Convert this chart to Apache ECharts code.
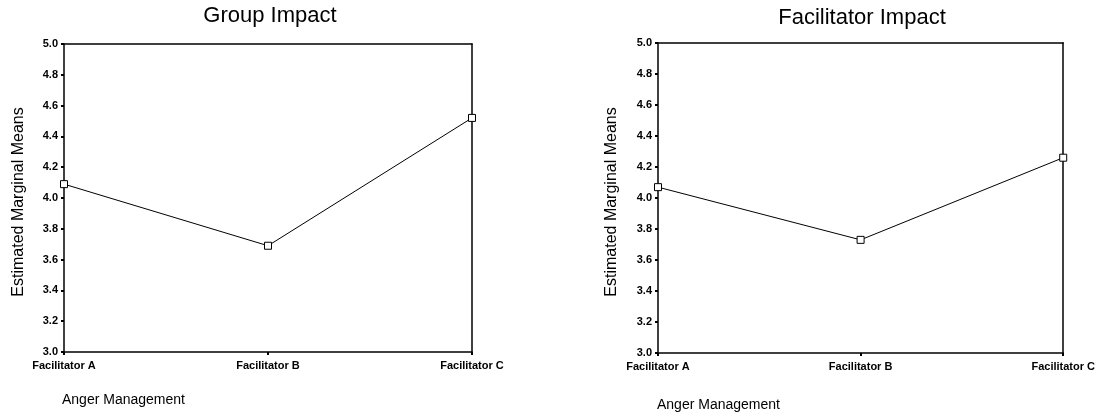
<!DOCTYPE html>
<html>
<head>
<meta charset="utf-8">
<script src="https://cdn.jsdelivr.net/npm/echarts@6/dist/echarts.min.js"></script>
<style>html,body{margin:0;padding:0;background:#fff;}#c{width:1098px;height:413px;}</style>
</head>
<body>
<div id="c"></div>
<script>
const categories = ['Facilitator A', 'Facilitator B', 'Facilitator C'];
const groupImpact = [4.09, 3.69, 4.52];
const facilitatorImpact = [4.07, 3.73, 4.26];
const titles = ['Group Impact', 'Facilitator Impact'];
const yAxisTitle = 'Estimated Marginal Means';
const xAxisTitle = 'Anger Management';
const yMin = 3.0, yMax = 5.0, yStep = 0.2;

const FONT = 'Liberation Sans, Arial, sans-serif';
const chart = echarts.init(document.getElementById('c'));
const lineStyle = { color: '#000', width: 1.5 };
const grids = [
  { left: 64, top: 44, width: 408, height: 308 },
  { left: 658, top: 43, width: 406, height: 310 }
];
const xAxes = [], yAxes = [], series = [];
[groupImpact, facilitatorImpact].forEach((vals, i) => {
  xAxes.push({
    type: 'category', gridIndex: i, data: categories, boundaryGap: false, position: 'bottom',
    axisLine: { lineStyle }, axisTick: { show: true, length: 3, inside: false, lineStyle: { color: '#000', width: 2 } },
    axisLabel: { color: '#000', fontFamily: FONT, fontSize: 11, fontWeight: 'bold', margin: 8, interval: 0 },
    splitLine: { show: false }
  });
  xAxes.push({
    type: 'category', gridIndex: i, data: categories, boundaryGap: false, position: 'top',
    axisLine: { lineStyle }, axisTick: { show: false }, axisLabel: { show: false }, splitLine: { show: false }
  });
  yAxes.push({
    type: 'value', gridIndex: i, min: yMin, max: yMax, interval: yStep, position: 'left',
    axisLine: { show: true, lineStyle }, axisTick: { show: true, length: 3, lineStyle: { color: '#000', width: 2 } },
    axisLabel: { color: '#000', fontFamily: FONT, fontSize: 11, fontWeight: 'bold', margin: 6, formatter: v => v.toFixed(1) },
    splitLine: { show: false }
  });
  yAxes.push({
    type: 'value', gridIndex: i, min: yMin, max: yMax, interval: yStep, position: 'right',
    axisLine: { show: true, lineStyle }, axisTick: { show: false }, axisLabel: { show: false }, splitLine: { show: false }
  });
  series.push({
    type: 'line', xAxisIndex: i * 2, yAxisIndex: i * 2, data: vals,
    symbol: 'rect', symbolSize: 7,
    lineStyle: { color: '#000', width: 1 },
    itemStyle: { color: '#fff', borderColor: '#000', borderWidth: 1 },
    emphasis: { disabled: true }
  });
});

const graphic = [
  { type: 'text', x: 270, y: 16, style: { text: titles[0], font: '22px ' + FONT, fill: '#000', align: 'center', verticalAlign: 'middle' } },
  { type: 'text', x: 862, y: 18, style: { text: titles[1], font: '22px ' + FONT, fill: '#000', align: 'center', verticalAlign: 'middle' } },
  { type: 'text', x: 19, y: 202, rotation: Math.PI / 2, style: { text: yAxisTitle, font: '16px ' + FONT, fill: '#000', align: 'center', verticalAlign: 'middle' } },
  { type: 'text', x: 612, y: 202, rotation: Math.PI / 2, style: { text: yAxisTitle, font: '16px ' + FONT, fill: '#000', align: 'center', verticalAlign: 'middle' } },
  { type: 'text', x: 62, y: 400, style: { text: xAxisTitle, font: '14px ' + FONT, fill: '#000', align: 'left', verticalAlign: 'middle' } },
  { type: 'text', x: 657, y: 405, style: { text: xAxisTitle, font: '14px ' + FONT, fill: '#000', align: 'left', verticalAlign: 'middle' } }
];

chart.setOption({
  animation: false,
  backgroundColor: '#fff',
  grid: grids,
  xAxis: xAxes,
  yAxis: yAxes,
  series,
  graphic
});
</script>
</body>
</html>
